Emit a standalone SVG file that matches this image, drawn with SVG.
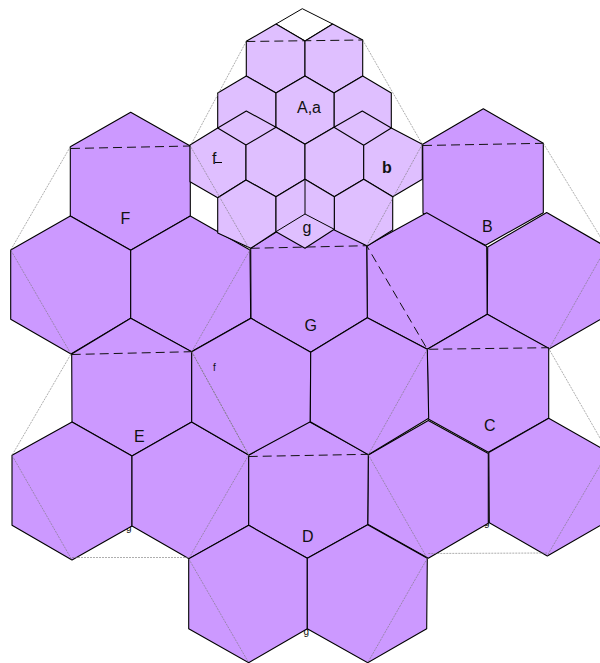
<svg xmlns="http://www.w3.org/2000/svg" width="600" height="663" viewBox="0 0 600 663">
<style>
.h{fill:#cc99ff;stroke:#000;stroke-width:1.1;stroke-linejoin:round}
.l{fill:#dfbfff;stroke:#000;stroke-width:1.1;stroke-linejoin:round}
.w{fill:#fff;stroke:#000;stroke-width:1}
.e{fill:none;stroke:#000;stroke-width:1}
.dot{fill:none;stroke:#777;stroke-width:.6;stroke-dasharray:2 1}
.dash{fill:none;stroke:#111;stroke-width:1;stroke-dasharray:9 5}
text{font-family:"Liberation Sans",Arial,sans-serif;fill:#111}
.t{font-size:16px}
.s{font-size:10px}
</style>
<rect width="600" height="663" fill="#fff"/>
<g id="cluster-B">
<polygon class="h" points="483.3,108.7 543.3,143.3 543.3,212.7 485.5,245.3 423,213.3 422.7,144.3"/>
<polygon class="h" points="426.7,212.7 486.7,246.5 487.3,314.3 427.3,349.3 367.3,317.7 366.7,245.7"/>
<polygon class="h" points="546.7,212.5 606.5,247 606.5,316 549,349 487.3,314.3 487.7,247"/>
<text class="t" x="482" y="232">B</text>
</g>
<g id="cluster-F">
<polygon class="h" points="130.7,112.3 190.3,146 190.3,216 130.7,250.3 70.3,216 70.3,146.7"/>
<polygon class="h" points="70.3,216 130.7,250.3 130.7,318.3 71,354 10.7,319.3 10.7,250"/>
<polygon class="h" points="190.3,216 250,250 250.7,318.3 191.3,351.7 130.7,318.3 130.7,250.3"/>
<text class="t" x="120.5" y="224">F</text>
</g>
<g id="cluster-C">
<text class="s" x="484" y="526">g</text>
<polygon class="h" points="487.3,314.3 548.7,348.3 548.7,418.3 488.3,452.3 428.3,419 427.3,349.3"/>
<polygon class="h" points="428.3,420.5 488.3,453.5 488.3,523.3 428.3,558.3 367.7,524.3 368.3,455"/>
<polygon class="h" points="548.7,418.3 608,452 608,521 547.3,556 489.3,522.7 488.8,452.5"/>
<text class="t" x="484" y="431">C</text>
</g>
<g id="cluster-E">
<text class="s" x="126" y="531">g</text>
<polygon class="h" points="130.7,318.3 191.7,351.7 191.7,422 132,456 72,422 71.7,354"/>
<polygon class="h" points="72,422 132,456 132,526 72,560 12,525.3 12,455.3"/>
<polygon class="h" points="191.7,422 248.7,455 248.7,525.3 189,558.7 132,526 132,456"/>
<text class="t" x="134" y="442">E</text>
</g>
<g id="cluster-D">
<text class="s" x="303.5" y="635">g</text>
<polygon class="h" points="308,421 368.3,454.3 367.7,524.7 307.3,558.3 248.7,525.3 248.7,455.3"/>
<polygon class="h" points="248.7,525.3 307.3,558.3 307.3,628.7 248.7,662.7 188.7,628.7 188.7,558.7"/>
<polygon class="h" points="367.7,524.7 427.3,558.3 426.7,628.7 367.7,662.7 307.3,628.7 307.3,558.3"/>
<text class="t" x="302" y="541.5">D</text>
</g>
<g id="cluster-G">
<polygon class="h" points="308,212 366.7,245.7 367.3,317.7 310.7,352.3 251,318.3 250.7,248.3"/>
<polygon class="h" points="251,318.3 310.7,352.3 310.3,421.7 248.7,455 191.7,422 191.7,351.7"/>
<polygon class="h" points="367.3,317.7 427.3,349.3 428.7,418.3 368.3,454.7 310.3,421.7 310.7,352.3"/>
<text class="t" x="304.5" y="331">G</text>
<text class="s" x="213" y="371">f</text>
</g>
<g id="cluster-A">
<polygon class="w" points="276,24 302.3,8.7 332.7,24 305,41"/>
<polygon class="l" points="276,24 305,41 305,76 276,93 246.3,76 246.3,41.3"/>
<polygon class="l" points="332.7,24 362.7,40 362.7,76 334,93 305,76 305,41"/>
<polygon class="l" points="246.3,76 276,93 276,127.3 246.3,145 217.7,128 217.7,93"/>
<polygon class="l" points="362.7,76 391.3,93 391.3,128 362.3,145 334,127.3 334,93"/>
<polygon class="l" points="305,76 334,93 334,127.3 305,144.3 276,127.3 276,93"/>
<polygon class="l" points="246.3,111 276,127.3 276,162 246,180 217.7,162 217.7,128"/>
<polygon class="l" points="362.3,111 391.3,128 391.3,162 363.7,179 334,162 334,127.3"/>
<polygon class="l" points="217.7,128 246,145 246,180 217.7,197.7 190,181.7 190,145"/>
<polygon class="l" points="276,127.3 305,144.3 305,179.3 276,196.7 246,180 246,145"/>
<polygon class="l" points="334,127.3 363.7,145.3 363.7,179.3 334.3,196.7 305,179.3 305,144.3"/>
<polygon class="l" points="391.3,128 422.3,144.3 422.3,179.3 392.7,196.7 363.7,179.3 363.7,145.3"/>
<polygon class="l" points="246,180 276,196.7 276,231.7 250.7,248.3 217.7,233 217.7,197.7"/>
<polygon class="l" points="363.7,179.3 392.7,196.7 392.7,230 367.3,246 334.3,230 334.3,196.7"/>
<polygon class="l" points="305,179.3 334.3,196.7 334.3,229.3 305,248.3 276,231.7 276,196.7"/>
<polyline class="e" points="276,231.7 305,214 334.3,229.3"/>
<line class="e" x1="305" y1="179.3" x2="305" y2="214"/>
<text class="t" x="297" y="113">A,a</text>
<text class="t" x="212" y="164">f</text>
<line class="e" x1="215" y1="162.5" x2="222" y2="162.5"/>
<text class="t" x="382" y="172.5" font-weight="bold">b</text>
<text class="t" x="302.5" y="233">g</text>
</g>
<g id="connectors">
<polyline class="dot" points="70.3,146.7 10.7,250 71,354 12,455.3 72,560"/>
<polyline class="dot" points="72,557.5 189,557.5"/>
<polyline class="dot" points="191.7,351.7 248.7,455"/>
<polyline class="dot" points="246.3,41.3 190.3,146 250,250 191.7,351.7"/>
<polyline class="dot" points="248.7,455 188.7,558.7 248.7,662.7"/>
<polyline class="dot" points="362.7,40 422.3,144.3 366.7,245.7"/>
<polyline class="dot" points="543.3,143.3 606.5,247 549,349 608,452 547,556"/>
<polyline class="dot" points="428.3,553.5 547,553"/>
<polyline class="dot" points="427.3,349.3 368.3,454.7 427.3,558.3 367.7,662.7"/>
<polyline class="dot" points="191.7,351.7 248.7,455"/>
<polyline class="dash" points="246.3,41.5 362.7,40"/>
<polyline class="dash" points="71,148.5 190.3,146"/>
<polyline class="dash" points="423,145.5 543.3,143.3"/>
<polyline class="dash" points="250.7,248.3 366.7,245.7 427.3,349.3 548.7,347.7"/>
<polyline class="dash" points="71.7,354.5 191.7,351.7"/>
<polyline class="dash" points="248.7,456.5 368.3,454.3"/>
</g>
</svg>
